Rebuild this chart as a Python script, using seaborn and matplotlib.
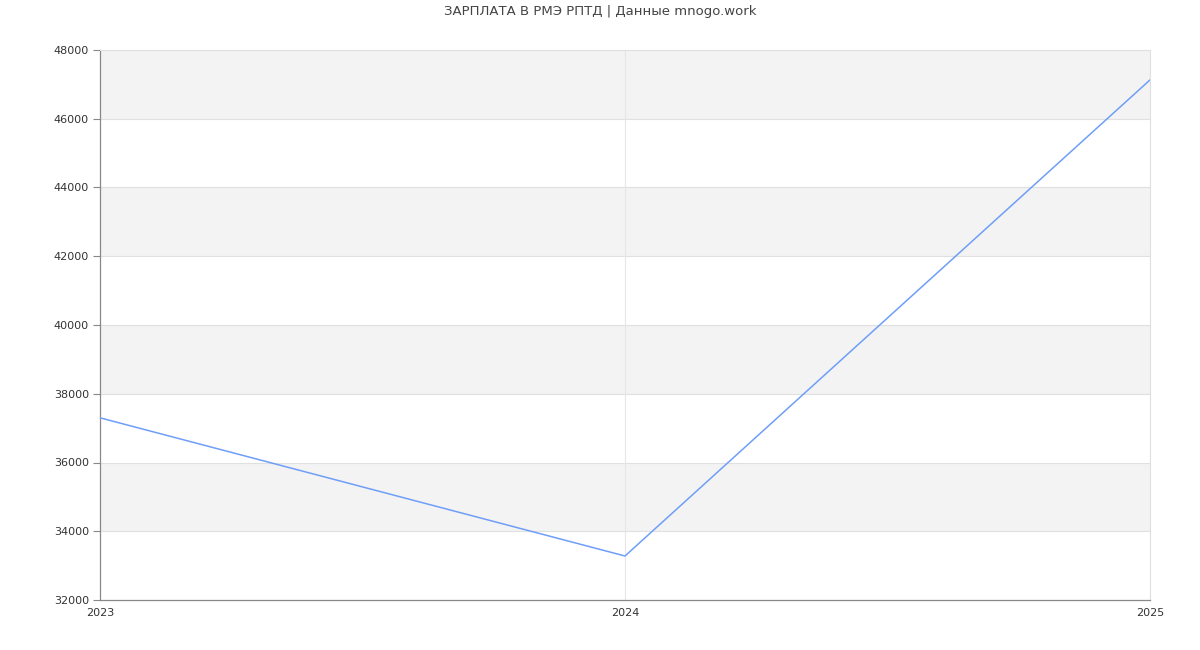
import matplotlib
matplotlib.use("Agg")
import matplotlib.pyplot as plt
import seaborn as sns
import pandas as pd

years = [2023, 2024, 2025]
salary = [37300, 33280, 47130]
y_ticks = [32000, 34000, 36000, 38000, 40000, 42000, 44000, 46000, 48000]
title = "ЗАРПЛАТА В РМЭ РПТД | Данные mnogo.work"

sns.set_theme(style="white", rc={"ytick.left": True, "ytick.major.size": 5,
                                 "ytick.major.width": 0.8, "ytick.color": "#888888"})
plt.rcParams['font.family'] = ['DejaVu Sans']

df = pd.DataFrame({"year": years, "salary": salary})

fig = plt.figure(figsize=(12, 6.5), dpi=100)
ax = fig.add_axes([100/1200, 50/650, 1050/1200, 550/650])

# alternating bands
for i in range(len(y_ticks) - 1):
    if i % 2 == 1:
        ax.axhspan(y_ticks[i], y_ticks[i+1], color="#f3f3f3", zorder=0, lw=0)
for t in y_ticks[1:-1]:
    ax.axhline(t, color="#e0e0e0", lw=0.8, zorder=1)
for x in years[1:]:
    ax.axvline(x, color="#e6e6e6", lw=0.8, zorder=1)

sns.lineplot(data=df, x="year", y="salary", ax=ax, color="#6f9ef8", lw=1.1, zorder=3)

ax.set_xlim(years[0], years[-1])
ax.set_ylim(y_ticks[0], y_ticks[-1])
ax.set_yticks(y_ticks)
ax.set_yticklabels([str(t) for t in y_ticks], fontsize=8)
ax.set_xticks(years)
ax.set_xticklabels([str(y) for y in years], fontsize=8, color="#333333")
ax.tick_params(axis="y", which="major", left=True, length=5, width=0.8,
               color="#888888", labelcolor="#333333", pad=3)
ax.tick_params(axis="x", length=0, pad=6)
for lbl in ax.get_xticklabels():
    lbl.set_x(lbl.get_position()[0])
ax.set_xlabel("")
ax.set_ylabel("")

for side in ["left", "bottom"]:
    ax.spines[side].set_color("#888888")
    ax.spines[side].set_linewidth(0.9)
for side in ["top", "right"]:
    ax.spines[side].set_color("#e0e0e0")
    ax.spines[side].set_linewidth(0.8)

fig.text(0.5, 1 - 12/650, title, ha="center", va="center", fontsize=9.5, color="#444444")

fig.savefig("out.png", dpi=100)
